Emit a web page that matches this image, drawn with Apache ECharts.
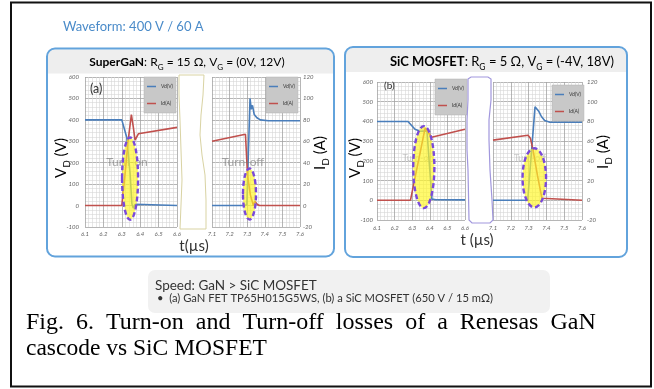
<!DOCTYPE html>
<html lang="en">
<head>
<meta charset="UTF-8">
<title>Turn-on / Turn-off waveforms</title>
<script src="https://cdn.jsdelivr.net/npm/echarts@6/dist/echarts.min.js"></script>
<style>
  html, body { margin: 0; padding: 0; background: #fff; }
  #chart { width: 654px; height: 389px; }
</style>
</head>
<body>
<div id="chart"></div>
<script>
// time windows in µs (axis is broken between them)
var tOn = [6.1, 6.6];
var tOff = [7.1, 7.6];
var vAxis = [-100, 600];   // V_D (V)
var iAxis = [-20, 120];    // I_D (A)
var legendNames = ['Vd(V)', 'Id(A)'];

// (a) SuperGaN, [t, V] and [t, A]
var ganVdOn = [[6.1, 400], [6.3, 400], [6.327, 318], [6.345, 150], [6.355, 8], [6.362, -12], [6.372, 6], [6.382, 0], [6.6, 0]];
var ganIdOn = [[6.1, 0], [6.3, 0], [6.318, 30], [6.334, 60], [6.352, 85], [6.362, 74], [6.372, 61], [6.39, 67], [6.6, 73]];
var ganVdOff = [[7.1, 0], [7.28, 0], [7.298, 4], [7.306, 12], [7.316, 500], [7.323, 450], [7.33, 468], [7.34, 425], [7.355, 410], [7.375, 400], [7.42, 396], [7.6, 396]];
var ganIdOff = [[7.1, 60], [7.29, 66.5], [7.297, 65], [7.302, 28], [7.318, 10], [7.335, 0], [7.343, 4], [7.358, 1], [7.37, 0], [7.6, 0]];

// (b) SiC MOSFET
var sicVdOn = [[6.1, 400], [6.276, 400], [6.316, 360], [6.344, 350], [6.384, 352], [6.412, 6], [6.435, 3], [6.6, 2]];
var sicIdOn = [[6.1, 0], [6.29, 0], [6.373, 73], [6.41, 64], [6.6, 72]];
var sicVdOff = [[7.1, 0], [7.295, 0], [7.336, 474], [7.345, 468], [7.358, 450], [7.372, 425], [7.39, 405], [7.42, 396], [7.6, 396]];
var sicIdOff = [[7.1, 61], [7.297, 66], [7.31, 63], [7.325, 51], [7.35, 25], [7.375, 2], [7.385, 0], [7.6, 0]];

// highlighted loss regions: [t centre, V centre, t half-width, V half-height]
var ganOnLoss = [6.345, 126, 0.0435, 192];
var ganOffLoss = [7.313, 54, 0.037, 119];
var sicOnLoss = [6.366, 168, 0.06, 208];
var sicOffLoss = [7.332, 114, 0.066, 150];

var blue = '#4a7ebb', red = '#c0504d';
var tickFont = { fontSize: 6, color: '#666', fontStyle: 'italic', fontFamily: 'Lato' };

function xAx(grid, range, margin) {
  return {
    type: 'value', gridIndex: grid, min: range[0], max: range[1], interval: 0.1,
    axisLine: { show: false }, axisTick: { show: false },
    axisLabel: Object.assign({ margin: margin, showMinLabel: true, showMaxLabel: true,
      formatter: function (v) { return v.toFixed(1); } }, tickFont),
    splitLine: { show: true, lineStyle: { color: '#a3a3a3', width: 0.8 } },
    minorTick: { show: false, splitNumber: 5 },
    minorSplitLine: { show: true, lineStyle: { color: '#d6d6d6', width: 0.6 } }
  };
}
function vAx(grid, labels, margin) {
  return {
    type: 'value', gridIndex: grid, min: vAxis[0], max: vAxis[1], interval: 100, position: 'left',
    axisLine: { show: false }, axisTick: { show: false },
    axisLabel: Object.assign({ show: labels, margin: margin }, tickFont),
    splitLine: { show: true, lineStyle: { color: '#a3a3a3', width: 0.8 } },
    minorTick: { show: false, splitNumber: 5 },
    minorSplitLine: { show: true, lineStyle: { color: '#d6d6d6', width: 0.6 } }
  };
}
function iAx(grid, labels, margin) {
  return {
    type: 'value', gridIndex: grid, min: iAxis[0], max: iAxis[1], interval: 20, position: 'right',
    axisLine: { show: false }, axisTick: { show: false },
    axisLabel: Object.assign({ show: labels, margin: margin }, tickFont),
    splitLine: { show: false }
  };
}
function lineS(name, color, xi, yi, data) {
  return {
    type: 'line', name: name, xAxisIndex: xi, yAxisIndex: yi, data: data,
    symbol: 'none', z: 2, color: color,
    lineStyle: { color: color, width: 1.6 }
  };
}
function ellipseItem(params, api) {
  var c = api.coord([api.value(0), api.value(1)]);
  var s = api.size([api.value(2), api.value(3)]);
  return {
    type: 'ellipse',
    shape: { cx: c[0], cy: c[1], rx: s[0], ry: s[1] },
    style: { fill: 'rgba(255,246,40,0.68)', stroke: '#7a4ad9', lineWidth: 2.4, lineDash: [5, 3] }
  };
}
function lossS(xi, yi, box) {
  return { type: 'custom', xAxisIndex: xi, yAxisIndex: yi, z: 5, silent: true,
    renderItem: ellipseItem, data: [box] };
}
function legendAt(left, top) {
  return {
    left: left, top: top, orient: 'vertical', data: legendNames, selectedMode: false,
    backgroundColor: '#c8c8c8', borderColor: '#b3b3b3', borderWidth: 0.5,
    padding: [7, 3, 7, 3], itemGap: 12, itemWidth: 9, itemHeight: 1.5, icon: 'rect',
    textStyle: { fontSize: 5, color: '#333', fontFamily: 'Lato' }
  };
}

var sub = {
  n: { fontSize: 12, color: '#222', fontFamily: 'Lato', lineHeight: 18 },
  b: { fontSize: 12, color: '#3d85c6', fontWeight: 'bold', fontFamily: 'Lato', lineHeight: 18 },
  s: { fontSize: 8, color: '#222', fontFamily: 'Lato', lineHeight: 8, verticalAlign: 'bottom' }
};
var subB = {
  n: { fontSize: 13, color: '#222', fontFamily: 'Lato', lineHeight: 19 },
  b: { fontSize: 13, color: '#3d85c6', fontWeight: 'bold', fontFamily: 'Lato', lineHeight: 19 },
  s: { fontSize: 8.5, color: '#222', fontFamily: 'Lato', lineHeight: 8, verticalAlign: 'bottom' }
};
var axName = {
  n: { fontSize: 15, color: '#333', fontFamily: 'Lato', lineHeight: 21 },
  s: { fontSize: 10, color: '#333', fontFamily: 'Lato', lineHeight: 10, verticalAlign: 'bottom' }
};

function txt(x, y, text, style, extra) {
  return Object.assign({ type: 'text', x: x, y: y,
    style: Object.assign({ text: text, verticalAlign: 'middle', fontFamily: 'Lato' }, style) }, extra || {});
}

var chart = echarts.init(document.getElementById('chart'));
chart.setOption({
  animation: false,
  backgroundColor: '#fff',
  grid: [
    { left: 85, top: 77, width: 92, height: 150 },
    { left: 212, top: 77, width: 88, height: 150 },
    { left: 377, top: 82, width: 88, height: 138 },
    { left: 493, top: 82, width: 89, height: 138 }
  ],
  xAxis: [xAx(0, tOn, 4), xAx(1, tOff, 4), xAx(2, tOn, 5), xAx(3, tOff, 5)],
  yAxis: [
    vAx(0, true, 6), iAx(0, false, 3),
    vAx(1, false, 6), iAx(1, true, 3),
    vAx(2, true, 4), iAx(2, false, 5),
    vAx(3, false, 4), iAx(3, true, 5)
  ],
  legend: [legendAt(144, 77), legendAt(266, 77), legendAt(435, 79), legendAt(552, 85)],
  series: [
    lineS(legendNames[0], blue, 0, 0, ganVdOn), lineS(legendNames[1], red, 0, 1, ganIdOn),
    lineS(legendNames[0], blue, 1, 2, ganVdOff), lineS(legendNames[1], red, 1, 3, ganIdOff),
    lineS(legendNames[0], blue, 2, 4, sicVdOn), lineS(legendNames[1], red, 2, 5, sicIdOn),
    lineS(legendNames[0], blue, 3, 6, sicVdOff), lineS(legendNames[1], red, 3, 7, sicIdOff),
    lossS(0, 0, ganOnLoss), lossS(1, 2, ganOffLoss), lossS(2, 4, sicOnLoss), lossS(3, 6, sicOffLoss)
  ],
  graphic: [
    { type: 'rect', z: 0, shape: { x: 11, y: 2.5, width: 640, height: 384 },
      style: { fill: 'none', stroke: '#111', lineWidth: 2 } },
    txt(63, 27, 'Waveform: 400 V / 60 A', { fontSize: 13, fill: '#4a8bc9' }),

    // panel frames and header bands
    { type: 'rect', z: 0, shape: { x: 48, y: 49.5, width: 285, height: 24, r: [7, 7, 0, 0] }, style: { fill: '#eeeeee' } },
    { type: 'rect', z: 1, shape: { x: 47, y: 48.5, width: 287, height: 208, r: 8 },
      style: { fill: 'none', stroke: '#62a3dc', lineWidth: 2 } },
    { type: 'rect', z: 0, shape: { x: 346, y: 48, width: 280, height: 24, r: [7, 7, 0, 0] }, style: { fill: '#eeeeee' } },
    { type: 'rect', z: 1, shape: { x: 345, y: 47, width: 282, height: 210, r: 8 },
      style: { fill: 'none', stroke: '#62a3dc', lineWidth: 2 } },

    txt(187, 62, '{b|SuperGaN}{n|: R}{s|G}{n| = 15 Ω, V}{s|G}{n| = (0V, 12V)}', { align: 'center', rich: sub }),
    txt(502, 62, '{b|SiC MOSFET}{n|: R}{s|G}{n| = 5 Ω, V}{s|G}{n| = (-4V, 18V)}', { align: 'center', rich: subB }),

    txt(90, 89, '(a)', { fontSize: 12.5, fill: '#333' }, { z: 6 }),
    txt(384, 86, '(b)', { fontSize: 10, fill: '#333' }, { z: 6 }),

    txt(127, 162, 'Turn-on', { fontSize: 12, align: 'center', fill: 'rgba(120,120,120,0.65)' }, { z: 3 }),
    txt(243, 162, 'Turn-off', { fontSize: 12, align: 'center', fill: 'rgba(120,120,120,0.65)' }, { z: 3 }),
    txt(418, 158, 'Turn-on', { fontSize: 9, align: 'center', fill: 'rgba(150,150,150,0.5)' }, { z: 3 }),
    txt(530, 158, 'Turn-off', { fontSize: 9, align: 'center', fill: 'rgba(150,150,150,0.5)' }, { z: 3 }),

    // axis titles
    txt(61, 158, '{n|V}{s|D}{n| (V)}', { align: 'center', rich: axName }, { rotation: Math.PI / 2 }),
    txt(320, 153, '{n|I}{s|D}{n| (A)}', { align: 'center', rich: axName }, { rotation: Math.PI / 2 }),
    txt(355, 158, '{n|V}{s|D}{n| (V)}', { align: 'center', rich: axName }, { rotation: Math.PI / 2 }),
    txt(603, 152, '{n|I}{s|D}{n| (A)}', { align: 'center', rich: axName }, { rotation: Math.PI / 2 }),
    txt(194, 246, 't(µs)', { fontSize: 15, align: 'center', fill: '#333' }),
    txt(477, 240, 't (µs)', { fontSize: 15, align: 'center', fill: '#333' }),

    // axis break bands
    { type: 'polygon', z: 10, shape: { points: [[179, 75], [204, 75], [203, 95], [201, 115], [200, 135], [202, 155], [205, 175], [206, 200], [206, 229], [180, 229], [181, 205], [182, 180], [181, 150], [180, 120], [179, 95]] },
      style: { fill: '#fff', stroke: '#d9d3a3', lineWidth: 1 } },
    { type: 'polygon', z: 10, shape: { points: [[468, 79], [471, 77], [488, 77], [491, 79], [491, 100], [489, 120], [489, 140], [490, 170], [492, 200], [493, 220], [490, 223], [472, 223], [469, 220], [468, 170], [467, 150], [467, 120], [468, 100]] },
      style: { fill: '#fff', stroke: '#a197dd', lineWidth: 1.2 } },

    // notes box
    { type: 'rect', z: 0, shape: { x: 148, y: 270, width: 402, height: 43, r: 7 }, style: { fill: '#f1f1f1' } },
    txt(155, 286, 'Speed: GaN > SiC MOSFET', { fontSize: 13.5, fill: '#333' }),
    txt(157, 298, '•  (a) GaN FET TP65H015G5WS, (b) a SiC MOSFET (650 V / 15 mΩ)', { fontSize: 11.2, fill: '#333' }),

    // caption (first line justified in the source, hence the wider word gaps)
    txt(26, 323, 'Fig.  6.  Turn-on  and  Turn-off  losses  of  a  Renesas  GaN', { fontSize: 24, fontFamily: 'Liberation Serif', fill: '#000' }),
    txt(26, 349, 'cascode vs SiC MOSFET', { fontSize: 23.5, fontFamily: 'Liberation Serif', fill: '#000' })
  ]
});
</script>
</body>
</html>
